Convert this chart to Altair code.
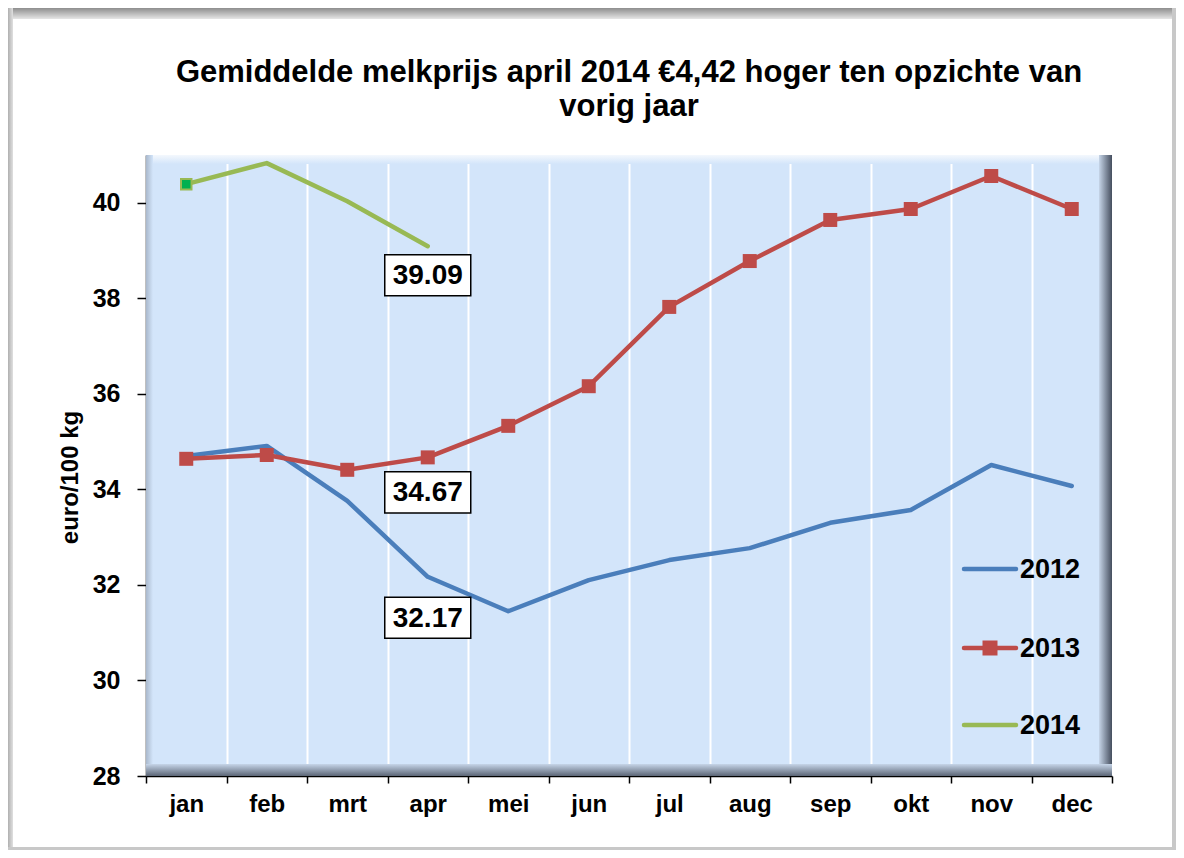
import altair as alt
import pandas as pd

months = ["jan", "feb", "mrt", "apr", "mei", "jun", "jul", "aug", "sep", "okt", "nov", "dec"]
years = ["2012", "2013", "2014"]
price_2012 = [34.70, 34.91, 33.76, 32.17, 31.45, 32.10, 32.52, 32.77, 33.30, 33.57, 34.51, 34.07]
price_2013 = [34.64, 34.72, 34.41, 34.67, 35.33, 36.16, 37.82, 38.78, 39.64, 39.87, 40.56, 39.87]
price_2014 = [40.39, 40.83, 40.03, 39.09]
colors = ["#4A7EBB", "#BE4B48", "#98B954"]
title_lines = ["Gemiddelde melkprijs april 2014 \u20ac4,42 hoger ten opzichte van", "vorig jaar"]
y_title = "euro/100 kg"
y_ticks = [28, 30, 32, 34, 36, 38, 40]

rows = []
for yr, vals in zip(years, [price_2012, price_2013, price_2014]):
    for m, v in zip(months, vals):
        rows.append({"year": yr, "month": m, "price": v})
df = pd.DataFrame(rows)
one = pd.DataFrame({"k": [0]})

W, H = 966, 621
FONT = "Liberation Sans"

x_enc = alt.X(
    "month:N", sort=months,
    scale=alt.Scale(type="band", domain=months, paddingInner=0, paddingOuter=0),
    axis=alt.Axis(title=None, tickBand="extent", grid=True, gridColor="white", gridWidth=2,
                  gridOpacity=1, domainColor="black", domainWidth=1.5, tickColor="black",
                  tickSize=7, tickWidth=1.5, labelPadding=9, labelFontSize=24, labelAngle=0),
)
y_enc = alt.Y(
    "price:Q",
    scale=alt.Scale(domain=[28, 41], nice=False, zero=False),
    axis=alt.Axis(title=y_title, values=y_ticks, grid=False, domainColor="black", domainWidth=1.5,
                  tickColor="black", tickSize=9, tickWidth=1.5, labelPadding=17, labelFontSize=25,
                  titleFontSize=24, titleX=-76, titleY=322, titleAngle=-90,
                  titleBaseline="middle", titleAlign="center"),
)


def grad(c0, c1, horizontal=True):
    return alt.Gradient(
        gradient="linear",
        stops=[alt.GradientStop(offset=0, color=c0), alt.GradientStop(offset=1, color=c1)],
        x1=0, x2=1 if horizontal else 0, y1=0, y2=0 if horizontal else 1,
    )


def rect(x, x2, y, y2, fill):
    return alt.Chart(one).mark_rect(fill=fill).encode(
        x=alt.value(x), x2=alt.value(x2), y=alt.value(y), y2=alt.value(y2))


layers = []
# outer frame
layers.append(rect(-138, 1030, -147, -136, grad("#8E8E8E", "#E6E6E6", horizontal=False)))
layers.append(rect(-138, -133, -147, 695, grad("#B0B0B0", "#E0E0E0")))
layers.append(rect(1026, 1030, -147, 695, "#C8C8C8"))
layers.append(rect(-138, 1030, 692, 695, "#C8C8C8"))
# bevel of plot area
layers.append(rect(0, W, 0, 9, grad("#F4F8FD", "#D3E5FA", horizontal=False)))
layers.append(rect(0, 7, 0, H, grad("#A9B8CC", "#D3E5FA")))
layers.append(rect(W - 13, W, 0, H, grad("#C6D5E8", "#454E5E")))
layers.append(rect(0, W, H - 12, H, grad("#C6D5E8", "#5C6676", horizontal=False)))

base = alt.Chart(df)
layers.append(base.mark_line(strokeWidth=4.5, strokeJoin="round", strokeCap="round").encode(
    x=x_enc, y=y_enc,
    color=alt.Color("year:N", scale=alt.Scale(domain=years, range=colors), legend=None)))
layers.append(base.transform_filter(alt.datum.year == "2013").mark_point(
    shape="square", size=196, filled=True, color=colors[1], opacity=1).encode(x=x_enc, y=y_enc))
layers.append(base.transform_filter((alt.datum.year == "2014") & (alt.datum.month == "jan")).mark_point(
    shape="square", size=110, filled=True, fill="#00B050", stroke="#98B954", strokeWidth=2,
    opacity=1).encode(x=x_enc, y=y_enc))

BOX = "M-1,-0.477L1,-0.477L1,0.477L-1,0.477Z"
for yr, off in [("2014", 29), ("2013", 35), ("2012", 41)]:
    sel = base.transform_filter((alt.datum.year == yr) & (alt.datum.month == "apr"))
    layers.append(sel.mark_point(shape=BOX, size=86 * 86, filled=True, fill="white", stroke="black",
                                 strokeWidth=1.5, opacity=1, yOffset=off).encode(x=x_enc, y=y_enc))
    layers.append(sel.mark_text(font=FONT, fontSize=28, fontWeight="bold", color="black",
                                baseline="middle", yOffset=off + 1).encode(
        x=x_enc, y=y_enc, text=alt.Text("price:Q", format=".2f")))

# manual legend
legend_y = [414, 493, 570]
for i, yr in enumerate(years):
    layers.append(alt.Chart(one).mark_rule(strokeWidth=4.5, color=colors[i], strokeCap="round").encode(
        x=alt.value(818), x2=alt.value(870), y=alt.value(legend_y[i])))
    layers.append(alt.Chart(one).mark_text(font=FONT, fontSize=27, fontWeight="bold", color="black",
                                           align="left", baseline="middle").encode(
        x=alt.value(874), y=alt.value(legend_y[i] + 1), text=alt.value(yr)))
layers.append(alt.Chart(one).mark_point(shape="square", size=225, filled=True, color=colors[1],
                                        opacity=1).encode(x=alt.value(844), y=alt.value(legend_y[1])))

# title
title_y = [-73, -39]
for j, line in enumerate(title_lines):
    layers.append(alt.Chart(one).mark_text(font=FONT, fontSize=31, fontWeight="bold", color="black",
                                           align="center", baseline="alphabetic").encode(
        x=alt.value(483), y=alt.value(title_y[j]), text=alt.value(line)))

chart = alt.layer(*layers).properties(
    width=W, height=H,
    autosize=alt.AutoSizeParams(type="none"),
    padding={"left": 138, "top": 147, "right": 64, "bottom": 74},
    background="white",
).configure_view(fill="#D3E5FA", stroke="transparent").configure_axis(
    labelFont=FONT, labelFontWeight="bold", labelColor="black",
    titleFont=FONT, titleFontWeight="bold", titleColor="black",
)

chart.save("out.html", embed_options={"renderer": "svg", "actions": False})
